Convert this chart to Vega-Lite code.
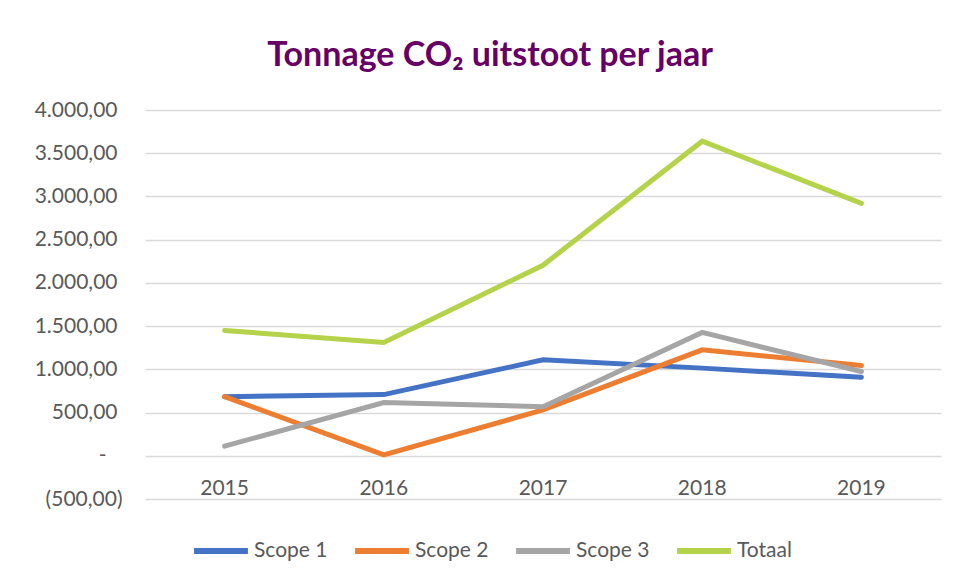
{
  "$schema": "https://vega.github.io/schema/vega-lite/v6.json",
  "autosize": "none",
  "width": 796,
  "height": 389,
  "padding": {"left": 145, "top": 110, "right": 17, "bottom": 84},
  "background": "white",
  "config": {
    "locale": {"number": {"decimal": ",", "thousands": ".", "grouping": [3], "currency": ["€", ""]}},
    "view": {"stroke": null},
    "font": "Lato"
  },
  "title": {
    "text": "Tonnage CO₂ uitstoot per jaar",
    "font": "Lato",
    "fontSize": 34,
    "fontWeight": "bold",
    "color": "#660066",
    "anchor": "middle",
    "dx": -53,
    "offset": 26
  },
  "data": {
    "values": [
      {"jaar": "2015", "serie": "Scope 1", "waarde": 684},
      {"jaar": "2016", "serie": "Scope 1", "waarde": 708},
      {"jaar": "2017", "serie": "Scope 1", "waarde": 1110},
      {"jaar": "2018", "serie": "Scope 1", "waarde": 1014},
      {"jaar": "2019", "serie": "Scope 1", "waarde": 909},
      {"jaar": "2015", "serie": "Scope 2", "waarde": 684},
      {"jaar": "2016", "serie": "Scope 2", "waarde": 10},
      {"jaar": "2017", "serie": "Scope 2", "waarde": 530},
      {"jaar": "2018", "serie": "Scope 2", "waarde": 1226},
      {"jaar": "2019", "serie": "Scope 2", "waarde": 1044},
      {"jaar": "2015", "serie": "Scope 3", "waarde": 112},
      {"jaar": "2016", "serie": "Scope 3", "waarde": 615},
      {"jaar": "2017", "serie": "Scope 3", "waarde": 568},
      {"jaar": "2018", "serie": "Scope 3", "waarde": 1427},
      {"jaar": "2019", "serie": "Scope 3", "waarde": 975},
      {"jaar": "2015", "serie": "Totaal", "waarde": 1450},
      {"jaar": "2016", "serie": "Totaal", "waarde": 1311},
      {"jaar": "2017", "serie": "Totaal", "waarde": 2204},
      {"jaar": "2018", "serie": "Totaal", "waarde": 3639},
      {"jaar": "2019", "serie": "Totaal", "waarde": 2920}
    ]
  },
  "mark": {"type": "line", "strokeWidth": 5, "strokeCap": "round", "strokeJoin": "miter"},
  "encoding": {
    "x": {
      "field": "jaar",
      "type": "ordinal",
      "scale": {"type": "band", "paddingInner": 0, "paddingOuter": 0},
      "axis": {
        "title": null,
        "labelAngle": 0,
        "domain": false,
        "ticks": false,
        "grid": false,
        "offset": -43,
        "labelPadding": 21,
        "labelFont": "Lato",
        "labelFontSize": 21,
        "labelColor": "#595959"
      }
    },
    "y": {
      "field": "waarde",
      "type": "quantitative",
      "scale": {"domain": [-500, 4000], "nice": false, "zero": false},
      "axis": {
        "title": null,
        "values": [-500, 0, 500, 1000, 1500, 2000, 2500, 3000, 3500, 4000],
        "domain": false,
        "ticks": false,
        "labelPadding": {"condition": [{"test": "datum.value == 0", "value": 39}, {"test": "datum.value < 0", "value": 23}], "value": 28},
        "labelFont": "Lato",
        "labelFontSize": 21,
        "labelColor": "#595959",
        "gridColor": "#D9D9D9",
        "gridWidth": 1.5,
        "labelExpr": "datum.value == 0 ? '-' : (datum.value < 0 ? '(' + format(-datum.value, ',.2f') + ')' : format(datum.value, ',.2f'))"
      }
    },
    "color": {
      "field": "serie",
      "type": "nominal",
      "scale": {
        "domain": ["Scope 1", "Scope 2", "Scope 3", "Totaal"],
        "range": ["#4472C4", "#ED7D31", "#A5A5A5", "#B4D24A"]
      },
      "legend": {
        "title": null,
        "orient": "none",
        "legendX": 46,
        "legendY": 411,
        "direction": "horizontal",
        "symbolType": "stroke",
        "symbolSize": 2900,
        "symbolStrokeWidth": 6,
        "labelFont": "Lato",
        "labelFontSize": 21,
        "labelColor": "#595959",
        "labelOffset": 3,
        "columnPadding": 15
      }
    }
  }
}
